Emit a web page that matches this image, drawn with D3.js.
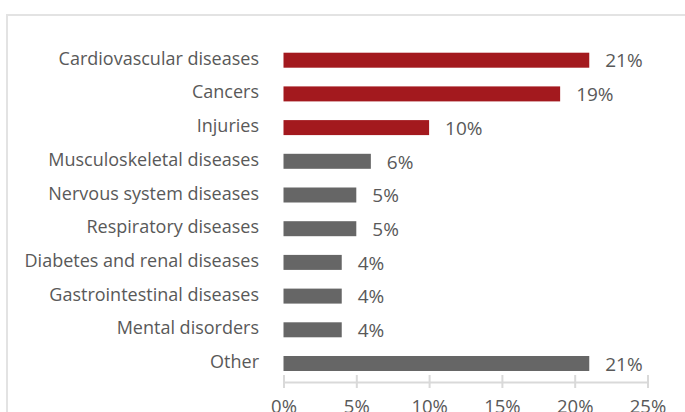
<!DOCTYPE html>
<html>
<head>
<meta charset="utf-8">
<script src="https://cdn.jsdelivr.net/npm/d3@7"></script>
<style>
  html, body { margin: 0; padding: 0; background: #fff; }
  svg { display: block; }
</style>
</head>
<body>
<svg id="chart" width="685" height="412"></svg>
<script>
// Share of burden by disease group (%)
const categories = [
  "Cardiovascular diseases",
  "Cancers",
  "Injuries",
  "Musculoskeletal diseases",
  "Nervous system diseases",
  "Respiratory diseases",
  "Diabetes and renal diseases",
  "Gastrointestinal diseases",
  "Mental disorders",
  "Other"
];
const values = [21, 19, 10, 6, 5, 5, 4, 4, 4, 21];
const highlighted = [true, true, true, false, false, false, false, false, false, false];
const tickValues = [0, 5, 10, 15, 20, 25];

const svg = d3.select("#chart");
const font = "'Open Sans', sans-serif";
const textColor = "#595959";

// light panel frame
svg.append("rect")
  .attr("x", 7).attr("y", 15)
  .attr("width", 700).attr("height", 420)
  .attr("fill", "none")
  .attr("stroke", "#e3e3e3")
  .attr("stroke-width", 2);

const x = d3.scaleLinear().domain([0, 25]).range([283.5, 647.5]);
const y = d3.scaleBand()
  .domain(categories)
  .range([43.35, 380.35])
  .paddingInner(0.555)
  .paddingOuter(0.2775);

// bars
svg.append("g").selectAll("rect")
  .data(categories)
  .join("rect")
  .attr("x", x(0))
  .attr("y", d => y(d))
  .attr("width", (d, i) => x(values[i]) - x(0))
  .attr("height", y.bandwidth())
  .attr("fill", (d, i) => highlighted[i] ? "#a3191e" : "#666666");

// category labels
svg.append("g").selectAll("text")
  .data(categories)
  .join("text")
  .attr("x", 259)
  .attr("y", d => y(d) + y.bandwidth() / 2 + 4.5)
  .attr("text-anchor", "end")
  .attr("font-family", font)
  .attr("font-size", 18)
  .attr("fill", textColor)
  .text(d => d);

// value labels
svg.append("g").selectAll("text")
  .data(categories)
  .join("text")
  .attr("x", (d, i) => x(values[i]) + 16)
  .attr("y", d => y(d) + y.bandwidth() / 2 + 7.2)
  .attr("font-family", font)
  .attr("font-size", 19)
  .attr("fill", textColor)
  .text((d, i) => values[i] + "%");

// x axis
const axis = d3.axisBottom(x)
  .tickValues(tickValues)
  .tickFormat(d => d + "%")
  .tickSizeInner(6)
  .tickSizeOuter(0)
  .tickPadding(12);
const gx = svg.append("g").attr("transform", "translate(0,382)").call(axis);
gx.select(".domain").attr("stroke", "#d9d9d9").attr("stroke-width", 2);
gx.selectAll(".tick line").attr("stroke", "#d9d9d9").attr("stroke-width", 2).attr("y1", -7);
gx.selectAll(".tick text")
  .attr("font-family", font)
  .attr("font-size", 18.5)
  .attr("fill", textColor);
</script>
</body>
</html>
